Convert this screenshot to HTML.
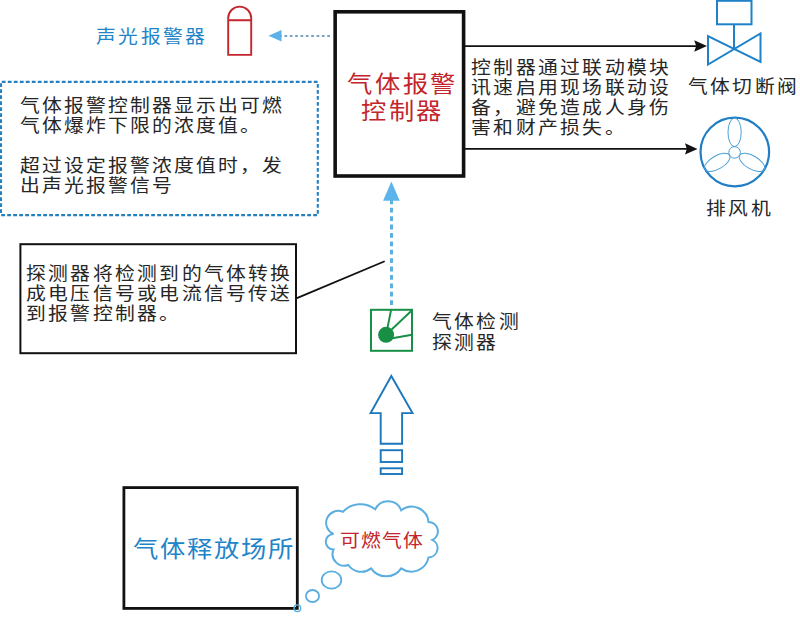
<!DOCTYPE html>
<html lang="zh-CN"><head><meta charset="utf-8"><title>气体报警系统示意图</title>
<style>
html,body{margin:0;padding:0;background:#fff;}
body{width:800px;height:632px;position:relative;overflow:hidden;font-family:"Liberation Sans",sans-serif;}
.t{position:absolute;white-space:nowrap;transform-origin:0 0;transform:scaleX(1.1);font-size:18px;line-height:20px;letter-spacing:4.4px;color:#262626;}
.big{font-size:23px;line-height:26.5px;letter-spacing:5px;}
.blue{color:#2284c8;}
.red{color:#c2252b;}
svg{position:absolute;left:0;top:0;}
</style></head><body>
<svg width="800" height="632" viewBox="0 0 800 632">
  <!-- controller box -->
  <rect x="335.15" y="11.8" width="128.45" height="164.2" fill="none" stroke="#111" stroke-width="3.6"/>
  <!-- alarm icon -->
  <path d="M228.2 54.9 V18.1 A11.5 11.5 0 0 1 251.2 18.1 V54.9 Z M228.2 20.2 H251.2" fill="none" stroke="#c4262c" stroke-width="1.9"/>
  <!-- dashed arrow left -->
  <line x1="330" y1="36" x2="281" y2="36" stroke="#7ea6c4" stroke-width="2.2" stroke-dasharray="2.8 2.55"/>
  <path d="M268.5 35.8 L281.5 30 L281.5 41.4 Z" fill="#5cb2e6"/>
  <!-- dotted info box -->
  <rect x="1" y="81.9" width="316.8" height="133.2" fill="none" stroke="#2580c0" stroke-width="2.1" stroke-dasharray="3.8 2.2" stroke-dashoffset="-0.8"/>
  <!-- right arrows -->
  <line x1="465" y1="46.1" x2="698" y2="46.1" stroke="#111" stroke-width="1.9"/>
  <path d="M707 46.1 L694.2 40.2 L696.2 46.1 L694.2 51.8 Z" fill="#111"/>
  <line x1="465" y1="148.9" x2="688" y2="148.9" stroke="#111" stroke-width="1.9"/>
  <path d="M697.5 148.9 L685 143.2 L686.8 148.9 L685 154.5 Z" fill="#111"/>
  <!-- valve -->
  <rect x="717" y="0.8" width="34.5" height="23.5" fill="none" stroke="#1f82c8" stroke-width="2"/>
  <line x1="734" y1="24" x2="734" y2="49" stroke="#1f82c8" stroke-width="2"/>
  <path d="M708 36 L708 64.5 L760.5 33.5 L760.5 62 Z" fill="none" stroke="#1f82c8" stroke-width="2" stroke-linejoin="miter"/>
  <!-- fan -->
  <circle cx="734.8" cy="152" r="34.3" fill="none" stroke="#1f7ec4" stroke-width="2.2"/>
  <g fill="none" stroke="#4a9fd8" stroke-width="1">
    <circle cx="734.6" cy="152.4" r="5.8"/>
    <ellipse cx="734.6" cy="132.3" rx="6.6" ry="14.3"/>
    <ellipse cx="734.6" cy="132.3" rx="6.6" ry="14.3" transform="rotate(120 734.6 152.4)"/>
    <ellipse cx="734.6" cy="132.3" rx="6.6" ry="14.3" transform="rotate(240 734.6 152.4)"/>
  </g>
  <!-- vertical dashed arrow -->
  <line x1="391.5" y1="305" x2="391.5" y2="199" stroke="#5eaede" stroke-width="3" stroke-dasharray="4.8 3.6"/>
  <path d="M391.4 181.5 L383.1 200.8 L399.7 200.8 Z" fill="#5cb4ea"/>
  <!-- left text box -->
  <rect x="20.4" y="244.2" width="275.6" height="109" fill="none" stroke="#111" stroke-width="2"/>
  <line x1="296.3" y1="298.3" x2="384.7" y2="261.25" stroke="#111" stroke-width="1.8"/>
  <!-- detector -->
  <rect x="371" y="309.8" width="41" height="41" fill="none" stroke="#178f45" stroke-width="2"/>
  <g stroke="#178f45" stroke-width="1.9" fill="none">
    <line x1="386.1" y1="334.8" x2="391.1" y2="309.8"/>
    <line x1="386.1" y1="334.8" x2="412" y2="310.2"/>
    <line x1="388" y1="339" x2="412" y2="334.8"/>
  </g>
  <circle cx="386.1" cy="334.8" r="8" fill="#178f45"/>
  <!-- big hollow arrow -->
  <path d="M391.3 376 L370.6 413.1 L380.7 413.1 L380.7 443.8 L402.1 443.8 L402.1 413.1 L412.5 413.1 Z" fill="none" stroke="#1b76bc" stroke-width="1.9" stroke-linejoin="miter"/>
  <rect x="380.7" y="450.2" width="21.4" height="11.8" fill="none" stroke="#1b76bc" stroke-width="1.9"/>
  <rect x="380.7" y="468.3" width="21.4" height="5.7" fill="none" stroke="#1b76bc" stroke-width="1.9"/>
  <!-- bottom box -->
  <rect x="123.9" y="487.6" width="173.4" height="120.8" fill="none" stroke="#111" stroke-width="2.8"/>
  <!-- cloud -->
  <path d="M333.5 534 A12.05 12.05 0 0 1 342.9 511.8 A24 24 0 0 1 375.2 509.3 A14.2 14.2 0 0 1 401.2 510.3 A16.9 16.9 0 0 1 428.5 521.9 A9.4 9.4 0 0 1 432.3 539.9 A9.2 9.2 0 0 1 428.5 557.4 A17.5 17.5 0 0 1 401.2 568.4 A18.2 18.2 0 0 1 371.1 568.4 A15.8 15.8 0 0 1 348.3 565 A11.7 11.7 0 0 1 333.5 549.5 A7.75 7.75 0 0 1 333.5 534 Z" fill="#fff" stroke="#5aaee0" stroke-width="2"/>
  <ellipse cx="331.5" cy="580" rx="9.8" ry="8.7" fill="none" stroke="#5aaee0" stroke-width="1.8"/>
  <ellipse cx="312.5" cy="596" rx="6.6" ry="6" fill="none" stroke="#5aaee0" stroke-width="1.8"/>
  <circle cx="297.4" cy="608.2" r="3.3" fill="none" stroke="#5ab0e0" stroke-width="1.4"/>
</svg>

<div class="t blue" style="left:95.5px;top:27.3px;letter-spacing:2.3px;">声光报警器</div>
<div class="t" style="left:19.5px;top:95.8px;letter-spacing:2.0px;">气体报警控制器显示出可燃<br>气体爆炸下限的浓度值。<br><br>超过设定报警浓度值时，发<br>出声光报警信号</div>
<div class="t big red" style="left:334px;top:71px;width:131px;text-align:center;padding-left:5.5px;letter-spacing:2.3px;box-sizing:border-box;transform-origin:50% 0;">气体报警<br>控制器</div>
<div class="t" style="left:471.3px;top:57.8px;letter-spacing:2.25px;">控制器通过联动模块<br>讯速启用现场联动设<br>备，避免造成人身伤<br>害和财产损失。</div>
<div class="t" style="left:688px;top:77.2px;letter-spacing:2.2px;">气体切断阀</div>
<div class="t" style="left:706px;top:199.3px;letter-spacing:2.4px;">排风机</div>
<div class="t" style="left:26px;top:263.6px;letter-spacing:2.2px;">探测器将检测到的气体转换<br>成电压信号或电流信号传送<br>到报警控制器。</div>
<div class="t" style="left:431.5px;top:311.5px;line-height:21.4px;letter-spacing:2.2px;">气体检测<br>探测器</div>
<div class="t big blue" style="left:133px;top:535.5px;letter-spacing:1.6px;">气体释放场所</div>
<div class="t red" style="left:340px;top:530.8px;font-size:18px;letter-spacing:1.0px;">可燃气体</div>
</body></html>
